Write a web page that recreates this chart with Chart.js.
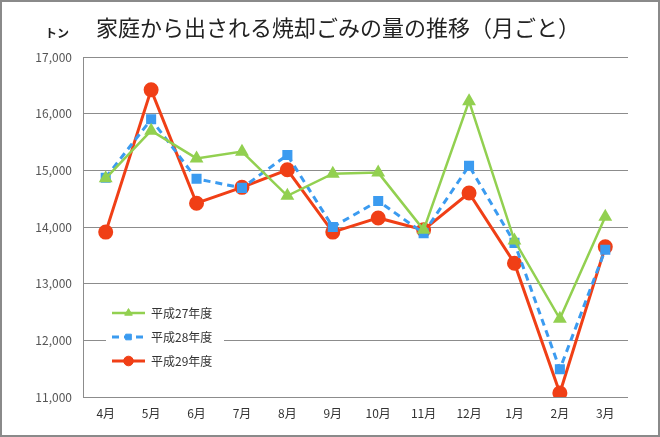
<!DOCTYPE html>
<html>
<head>
<meta charset="utf-8">
<script src="https://cdn.jsdelivr.net/npm/chart.js@4.4.0/dist/chart.umd.min.js"></script>
<style>
  html, body { margin: 0; padding: 0; background: #fff; }
  #wrap { width: 660px; height: 437px; }
</style>
</head>
<body>
<div id="wrap"><canvas id="myChart" width="660" height="437"></canvas></div>
<script>
// Data
const months = ['4月', '5月', '6月', '7月', '8月', '9月', '10月', '11月', '12月', '1月', '2月', '3月'];
const h27 = [14860, 15700, 15210, 15330, 14550, 14940, 14960, 13950, 16220, 13760, 12380, 14180];
const h28 = [14870, 15900, 14850, 14690, 15270, 14000, 14460, 13890, 15080, 13720, 11490, 13600];
const h29 = [13910, 16420, 14420, 14700, 15010, 13910, 14160, 13950, 14600, 13360, 11070, 13650];
const seriesLabels = ['平成27年度', '平成28年度', '平成29年度'];
const yTicks = [11000, 12000, 13000, 14000, 15000, 16000, 17000];

const FONT = "'Noto Sans CJK JP', 'Noto Sans', sans-serif";

// background, frame, title and in-chart legend
const decor = {
    id: 'decor',
    beforeDraw: (chart) => {
        const { ctx, width, height } = chart;
        ctx.save();
        ctx.fillStyle = '#fff';
        ctx.fillRect(0, 0, width, height);
        ctx.restore();
    },
    afterDraw: (chart) => {
        const { ctx, width, height } = chart;
        ctx.save();
        ctx.strokeStyle = '#8a8a8a';
        ctx.lineWidth = 2;
        ctx.strokeRect(1, 1, width - 2, height - 2);

        ctx.fillStyle = '#222';
        ctx.textBaseline = 'middle';
        ctx.textAlign = 'left';
        ctx.font = '22px ' + FONT;
        ctx.fillText('家庭から出される焼却ごみの量の推移（月ごと）', 96, 28);
        ctx.font = 'bold 12px ' + FONT;
        ctx.fillText('トン', 45, 33);

        // legend
        ctx.fillStyle = '#fff';
        ctx.fillRect(106, 300, 118, 74);
        ctx.font = '12px ' + FONT;
        chart.data.datasets.forEach((ds, i) => {
            const y = 313 + i * 24;
            ctx.strokeStyle = ds.borderColor;
            ctx.lineWidth = ds.borderWidth;
            ctx.setLineDash(ds.borderDash || []);
            ctx.beginPath();
            ctx.moveTo(112, y);
            ctx.lineTo(145, y);
            ctx.stroke();
            ctx.setLineDash([]);
            ctx.fillStyle = ds.pointBackgroundColor;
            ctx.strokeStyle = ds.pointBorderColor;
            ctx.lineWidth = 1;
            Chart.helpers.drawPoint(ctx, {
                pointStyle: ds.pointStyle,
                radius: ds.pointRadius * 0.8,
                rotation: 0,
                borderWidth: 1
            }, 128.5, y);
            ctx.fillStyle = '#333';
            ctx.fillText(ds.label, 151, y);
        });
        ctx.restore();
    }
};

const ctx = document.getElementById('myChart');
const myChart = new Chart(ctx, {
    type: 'line',
    data: {
        labels: months,
        datasets: [{
            label: seriesLabels[0],
            data: h27,
            borderColor: '#92d050',
            backgroundColor: '#92d050',
            pointBackgroundColor: '#92d050',
            pointBorderColor: '#92d050',
            pointStyle: 'triangle',
            pointRadius: 5.5,
            borderWidth: 2.5
        }, {
            label: seriesLabels[1],
            data: h28,
            borderColor: '#3b9bf0',
            backgroundColor: '#3b9bf0',
            pointBackgroundColor: '#3b9bf0',
            pointBorderColor: '#3b9bf0',
            pointStyle: 'rect',
            pointRadius: 5,
            borderWidth: 3,
            borderDash: [7, 5]
        }, {
            label: seriesLabels[2],
            data: h29,
            borderColor: '#f03f16',
            backgroundColor: '#f03f16',
            pointBackgroundColor: '#f03f16',
            pointBorderColor: '#f03f16',
            pointStyle: 'circle',
            pointRadius: 6,
            borderWidth: 3
        }]
    },
    options: {
        responsive: false,
        animation: false,
        layout: { padding: { left: 0, right: 32, top: 57, bottom: 0 } },
        plugins: {
            legend: { display: false },
            title: { display: false },
            tooltip: { enabled: false }
        },
        scales: {
            x: {
                offset: true,
                grid: { display: false, drawTicks: false },
                border: { display: false },
                ticks: {
                    color: '#333',
                    padding: 9,
                    font: { family: FONT, size: 12 }
                },
                afterFit: (s) => { s.height = 40; }
            },
            y: {
                min: yTicks[0],
                max: yTicks[yTicks.length - 1],
                afterBuildTicks: (s) => { s.ticks = yTicks.map(v => ({ value: v })); },
                grid: { color: '#8c8c8c', lineWidth: 1, drawTicks: false },
                border: { display: true, color: '#8c8c8c', width: 1 },
                ticks: {
                    color: '#555',
                    padding: 11,
                    font: { family: FONT, size: 12 },
                    callback: (v) => v.toLocaleString('en-US')
                },
                afterFit: (s) => { s.width = 83; }
            }
        }
    },
    plugins: [decor]
});
</script>
</body>
</html>
